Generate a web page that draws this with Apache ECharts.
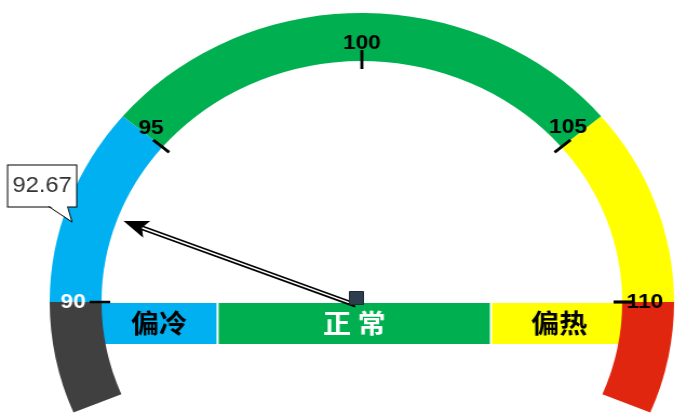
<!DOCTYPE html>
<html>
<head>
<meta charset="utf-8">
<script src="https://cdn.jsdelivr.net/npm/echarts@6/dist/echarts.min.js"></script>
<style>
html, body { margin: 0; padding: 0; background: #fff; overflow: hidden; }
/* 原图横向略被拉伸, 用 scaleX 还原椭圆 */
#chart { width: 648px; height: 420px; transform: scaleX(1.0802); transform-origin: 0 0; }
</style>
</head>
<body>
<div id="chart"></div>
<script>
// 刻度值
var tickValues = [90, 95, 100, 105, 110];
// 当前值
var gaugeValue = 92.67;
// 色带: 过冷 / 偏冷 / 正常 / 偏热 / 过热
var arcColors = ['#404040', '#00b0f0', '#00b050', '#ffff00', '#e0260f'];
// 底部分区
var zoneNames = ['偏冷', '正 常', '偏热'];
var zoneWidths = [3, 7, 3.5];
var zoneColors = ['#00b0f0', '#00b050', '#ffff00'];
var zoneTextColors = ['#000', '#fff', '#000'];

// 布局
var CENTER = [335, 302];
var RADIUS = 289;
var BAND = 48;
var START = 202.5, END = -22.5;
var tickAngles = [180, 140, 90, 40, 0];
var labelGap = [2, 11, 12, 9, 2];
var TICK_FONT = "'Liberation Sans', sans-serif";

var myChart = echarts.init(document.getElementById('chart'));

function stop(angle) {
  return (START - angle) / (START - END);
}

// 整条色带
var arcStops = [
  [stop(tickAngles[0]), arcColors[0]],
  [stop(tickAngles[1]), arcColors[1]],
  [stop(tickAngles[3]), arcColors[2]],
  [stop(tickAngles[4]), arcColors[3]],
  [1, arcColors[4]]
];

var series = [];

// 底部分区条, 压在色带下面
zoneNames.forEach(function (name, i) {
  series.push({
    type: 'bar',
    stack: 'zone',
    z: 1,
    barWidth: '100%',
    data: [zoneWidths[i]],
    itemStyle: { color: zoneColors[i], borderColor: '#fff', borderWidth: 1 },
    label: {
      show: true,
      position: 'inside',
      formatter: name,
      color: zoneTextColors[i],
      fontSize: 26,
      fontWeight: 'bold',
      fontFamily: 'Noto Sans CJK SC'
    },
    silent: true
  });
});

series.push({
  type: 'gauge',
  z: 3,
  center: CENTER,
  radius: RADIUS,
  startAngle: START,
  endAngle: END,
  min: 0,
  max: 1,
  axisLine: { lineStyle: { width: BAND, color: arcStops } },
  axisTick: { show: false },
  splitLine: { show: false },
  axisLabel: { show: false },
  pointer: { show: false },
  anchor: { show: false },
  title: { show: false },
  detail: { show: false },
  data: [{ value: 0 }]
});

// 每个刻度一段, 只显示段首的标签
tickValues.forEach(function (v, i) {
  var last = i === tickValues.length - 1;
  var vMax = last ? v + 0.01 : tickValues[i + 1];
  var aEnd = last ? tickAngles[i] - 0.01 : tickAngles[i + 1];
  var withPointer = gaugeValue >= v && gaugeValue <= vMax;
  series.push({
    type: 'gauge',
    z: withPointer ? 6 : 4,
    center: CENTER,
    radius: RADIUS,
    startAngle: tickAngles[i],
    endAngle: aEnd,
    min: v,
    max: vMax,
    splitNumber: 1,
    axisLine: { lineStyle: { width: BAND, color: [[1, '#000']], opacity: 0 } },
    axisTick: { show: false },
    splitLine: { show: true, distance: -11, length: 19, lineStyle: { color: '#000', width: 2.5 } },
    axisLabel: {
      distance: labelGap[i],
      color: '#000',
      fontSize: 21,
      fontWeight: 'bold',
      fontFamily: TICK_FONT,
      formatter: function (val) {
        if (val !== v) return '';
        return i === 0 ? '{w|' + val + '}' : String(val);
      },
      rich: { w: { color: '#fff', fontSize: 21, fontWeight: 'bold', fontFamily: TICK_FONT } }
    },
    pointer: {
      show: withPointer,
      icon: 'path://M10 0 L20 24 L10 19 L0 24 Z M7.4 19 L9.2 19 L9.2 240 L7.4 240 Z M10.8 19 L12.6 19 L12.6 240 L10.8 240 Z',
      length: 231,
      width: 18,
      offsetCenter: [-5, -4],
      itemStyle: { color: '#000' }
    },
    anchor: {
      show: withPointer,
      showAbove: true,
      icon: 'rect',
      size: 13,
      offsetCenter: [-5, -4],
      itemStyle: { color: '#2e3e4e', borderColor: '#1e2a36', borderWidth: 1 }
    },
    title: { show: false },
    detail: {
      show: withPointer,
      offsetCenter: [-296, -116],
      width: 63,
      height: 41,
      lineHeight: 41,
      padding: 0,
      backgroundColor: '#fff',
      borderColor: '#000',
      borderWidth: 1,
      color: '#333',
      fontSize: 22,
      fontWeight: 'normal',
      fontFamily: "'Liberation Sans', sans-serif",
      formatter: function (val) { return val.toFixed(2); }
    },
    data: [{ value: withPointer ? gaugeValue : v }]
  });
});

var option = {
  animation: false,
  grid: { left: 93, top: 302, width: 488, height: 43 },
  xAxis: { type: 'value', min: 0, max: 13.5, show: false },
  yAxis: { type: 'category', data: ['zone'], show: false },
  graphic: [
    { type: 'polygon', z: 100, shape: { points: [[45, 205], [62.5, 205], [66.7, 222]] }, style: { fill: '#fff' } },
    { type: 'polyline', z: 101, shape: { points: [[45, 206.5], [66.7, 222], [62.5, 206.5]] }, style: { stroke: '#000', lineWidth: 1, fill: null } }
  ],
  series: series
};

myChart.setOption(option);
</script>
</body>
</html>
